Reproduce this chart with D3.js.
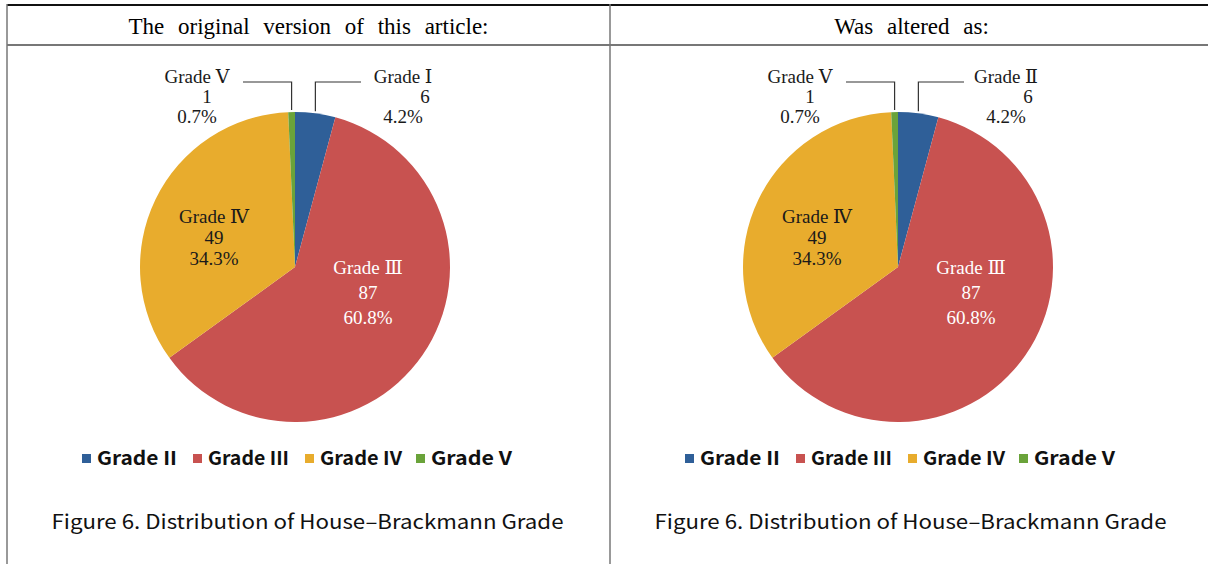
<!DOCTYPE html>
<html>
<head>
<meta charset="utf-8">
<script src="https://cdn.jsdelivr.net/npm/d3@7"></script>
<style>
  body { margin: 0; background: #fff; }
  .serif { font-family: 'Liberation Serif', 'DejaVu Serif', serif; }
  .sans { font-family: 'Noto Sans CJK KR', 'Noto Sans', sans-serif; }
</style>
</head>
<body>
<div class="canvas"></div>
<script>
// data
const categories = ['Grade II', 'Grade III', 'Grade IV', 'Grade V'];
const counts = [6, 87, 49, 1];
const percents = ['4.2%', '60.8%', '34.3%', '0.7%'];
const colors = ['#2f5f98', '#c85250', '#e8ac2d', '#6aa33a'];
const leftNames = ['Grade Ⅰ', 'Grade Ⅲ', 'Grade Ⅳ', 'Grade Ⅴ'];
const rightNames = ['Grade Ⅱ', 'Grade Ⅲ', 'Grade Ⅳ', 'Grade Ⅴ'];
const headers = ['The original version of this article:', 'Was altered as:'];
const caption = 'Figure 6. Distribution of House–Brackmann Grade';

const width = 1208, height = 564;
const svg = d3.select('.canvas')
  .append('svg')
  .attr('width', width)
  .attr('height', height);

// table lines
const colX = [7, 610, 1213];
svg.append('line').attr('x1', 7).attr('x2', width).attr('y1', 5).attr('y2', 5)
  .attr('stroke', '#111').attr('stroke-width', 2);
svg.append('line').attr('x1', 7).attr('x2', width).attr('y1', 45).attr('y2', 45)
  .attr('stroke', '#777').attr('stroke-width', 2);
[7, 610].forEach(x => {
  svg.append('line').attr('x1', x).attr('x2', x).attr('y1', 4).attr('y2', height)
    .attr('stroke', '#777').attr('stroke-width', 1.5);
});

const radius = 155;
const pie = d3.pie().sort(null).value(d => d);
const arc = d3.arc().innerRadius(0).outerRadius(radius);

// label placement relative to pie center
const labelPos = [
  { x: 108, y: -184, outside: true },
  { x: 73, y: 7, outside: false, fill: '#fff', gap: 25 },
  { x: -81, y: -44, outside: false, fill: '#1a1a1a', gap: 21 },
  { x: -98, y: -184, outside: true }
];

function drawPanel(i, names) {
  const cx = colX[i] + 288, cy = 267;
  const mid = (colX[i] + colX[i + 1]) / 2;

  svg.append('text').attr('class', 'serif')
    .attr('x', mid).attr('y', 34)
    .attr('text-anchor', 'middle')
    .attr('font-size', 23)
    .attr('word-spacing', 8)
    .text(headers[i]);

  const g = svg.append('g').attr('transform', `translate(${cx},${cy})`);
  const arcs = pie(counts);

  g.selectAll('path')
    .data(arcs)
    .enter()
    .append('path')
    .attr('d', arc)
    .attr('fill', (d, j) => colors[j]);

  arcs.forEach((d, j) => {
    const p = labelPos[j];
    const lines = [names[j], counts[j], percents[j]];
    if (p.outside) {
      const a = (d.startAngle + d.endAngle) / 2;
      const rx = Math.sin(a) * radius, ry = -Math.cos(a) * radius;
      const hx = j === 0 ? 66 : -52;
      g.append('path')
        .attr('d', `M${rx},${ry - 2}L${rx},-185L${hx},-185`)
        .attr('fill', 'none').attr('stroke', '#333').attr('stroke-width', 1.2);
    }
    const t = g.append('text').attr('class', 'serif')
      .attr('font-size', 19)
      .attr('text-anchor', 'middle')
      .attr('fill', p.fill || '#1a1a1a');
    lines.forEach((s, k) => {
      t.append('tspan')
        .attr('x', p.x + (p.outside && k === 1 ? (j === 0 ? 22 : 10) : 0))
        .attr('y', p.y + k * (p.gap || 20))
        .text(s);
    });
  });

  // legend
  const leg = svg.append('g').attr('transform', `translate(${colX[i] + 75},458)`);
  const legX = [0, 111, 223, 334];
  const legLen = [80, 81, 82, 81];
  categories.forEach((c, j) => {
    leg.append('rect').attr('x', legX[j]).attr('y', -4).attr('width', 9).attr('height', 9)
      .attr('fill', colors[j]);
    leg.append('text').attr('class', 'sans')
      .attr('x', legX[j] + 15).attr('y', 7)
      .attr('font-size', 19).attr('font-weight', 600)
      .attr('fill', '#111')
      .attr('textLength', legLen[j])
      .attr('lengthAdjust', 'spacingAndGlyphs')
      .text(c);
  });

  svg.append('text').attr('class', 'sans')
    .attr('x', mid - 1).attr('y', 529)
    .attr('text-anchor', 'middle')
    .attr('font-size', 20)
    .attr('fill', '#111')
    .attr('textLength', 512)
    .attr('lengthAdjust', 'spacingAndGlyphs')
    .text(caption);
}

drawPanel(0, leftNames);
drawPanel(1, rightNames);
</script>
</body>
</html>
